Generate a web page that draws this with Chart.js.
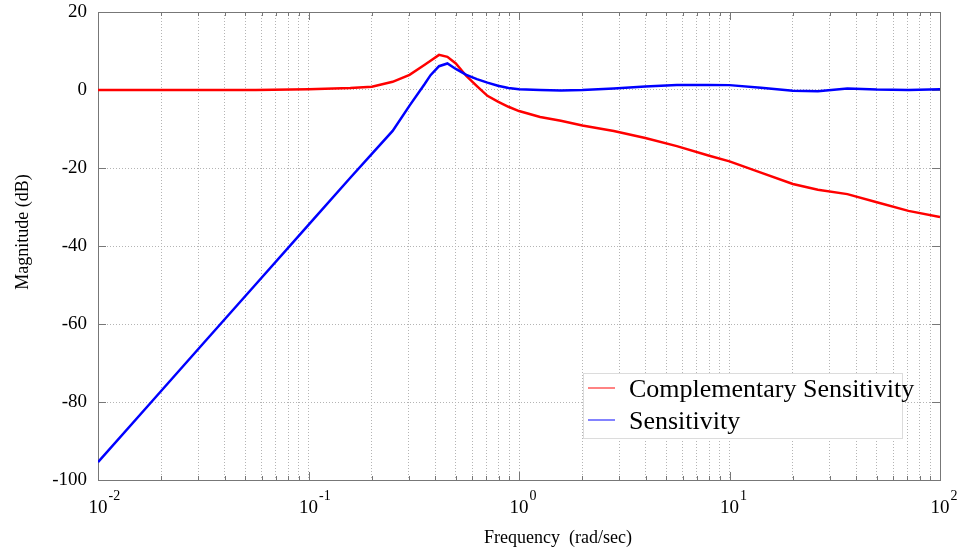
<!DOCTYPE html>
<html>
<head>
<meta charset="utf-8">
<script src="https://cdn.jsdelivr.net/npm/chart.js@4/dist/chart.umd.min.js"></script>
<style>
  html, body { margin: 0; padding: 0; background: #fff; }
  #wrap { width: 965px; height: 552px; }
</style>
</head>
<body>
<div id="wrap"><canvas id="bode"></canvas></div>
<script>
// frequency points (rad/sec)
const freq = [
  0.01, 0.0178, 0.0316, 0.0562, 0.1, 0.158, 0.2, 0.251, 0.302, 0.355,
  0.38, 0.417, 0.457, 0.501, 0.562, 0.631, 0.708, 0.794, 0.891, 1.0,
  1.26, 1.58, 2.0, 2.82, 3.98, 5.62, 7.94, 10.0, 14.1, 20.0,
  26.3, 36.3, 50.1, 70.8, 100
];

// magnitude in dB
const complementary = [
  0, 0, 0, 0, 0.2, 0.5, 0.85, 2.1, 3.9, 6.4,
  7.5, 9.0, 8.5, 6.8, 3.6, 1.0, -1.5, -3.0, -4.3, -5.4,
  -6.9, -7.9, -9.1, -10.5, -12.3, -14.4, -16.8, -18.3, -21.2, -24.1,
  -25.6, -26.7, -28.8, -31.0, -32.6
];
const sensitivity = [
  -95.4, -80.2, -65.0, -49.8, -34.6, -22.5, -16.4, -10.5, -4.0, 1.4,
  3.8, 6.1, 6.8, 5.4, 3.9, 2.8, 1.9, 1.1, 0.5, 0.2,
  0, -0.1, 0, 0.4, 0.9, 1.3, 1.3, 1.25, 0.6, -0.2,
  -0.35, 0.4, 0.1, 0, 0.2
];

const seriesNames = ['Complementary Sensitivity', 'Sensitivity'];
const decades = [-2, -1, 0, 1, 2];
const yTicks = [20, 0, -20, -40, -60, -80, -100];

const serif = 'Liberation Serif, Times New Roman, serif';

// grid positions on the log axis: 1..9 x 10^d
const xGridValues = [];
decades.forEach(d => {
  for (let k = 1; k <= 9; k++) {
    const v = k * Math.pow(10, d);
    if (v <= 100.0001) xGridValues.push(v);
  }
});

const toPoints = (ys) => ys.map((y, i) => ({ x: freq[i], y: y }));

// frame, inward tick marks, tick labels with exponents, titles, legend
const bodeDecor = {
  id: 'bodeDecor',
  beforeDatasetsDraw(chart) {
    const { ctx, chartArea: a, scales } = chart;
    const xs = scales.x, ys = scales.y;
    ctx.save();
    ctx.strokeStyle = '#777';
    ctx.lineWidth = 1;
    ctx.beginPath();
    xGridValues.forEach(v => {
      const px = Math.round(xs.getPixelForValue(v)) + 0.5;
      const major = Math.abs(Math.log10(v) - Math.round(Math.log10(v))) < 1e-6;
      const len = major ? 8 : 4;
      ctx.moveTo(px, a.bottom); ctx.lineTo(px, a.bottom - len);
      ctx.moveTo(px, a.top); ctx.lineTo(px, a.top + len);
    });
    yTicks.forEach(v => {
      const py = Math.round(ys.getPixelForValue(v)) + 0.5;
      ctx.moveTo(a.left, py); ctx.lineTo(a.left + 8, py);
      ctx.moveTo(a.right, py); ctx.lineTo(a.right - 8, py);
    });
    ctx.stroke();
    ctx.strokeRect(Math.round(a.left) + 0.5, Math.round(a.top) + 0.5,
                   Math.round(a.right - a.left), Math.round(a.bottom - a.top));
    ctx.restore();
  },
  afterDraw(chart) {
    const { ctx, chartArea: a, scales } = chart;
    const xs = scales.x;
    ctx.save();
    ctx.fillStyle = '#000';

    // x tick labels: 10 with superscript exponent
    decades.forEach(d => {
      const px = xs.getPixelForValue(Math.pow(10, d));
      ctx.font = '19px ' + serif;
      ctx.textAlign = 'center';
      ctx.textBaseline = 'alphabetic';
      const w = ctx.measureText('10').width;
      ctx.fillText('10', px, a.bottom + 33);
      ctx.font = '14px ' + serif;
      ctx.textAlign = 'left';
      ctx.fillText(String(d), px + w / 2 + 1, a.bottom + 20);
    });

    // axis titles
    ctx.font = '18px ' + serif;
    ctx.textAlign = 'center';
    ctx.fillText('Frequency  (rad/sec)', 558, 543);
    ctx.save();
    ctx.translate(28, 232);
    ctx.rotate(-Math.PI / 2);
    ctx.fillText('Magnitude (dB)', 0, 0);
    ctx.restore();

    // legend inside the plot
    const bx = 583, by = 373, bw = 319, bh = 65;
    ctx.fillStyle = '#fff';
    ctx.fillRect(bx, by, bw, bh);
    ctx.strokeStyle = '#dcdcdc';
    ctx.lineWidth = 1;
    ctx.strokeRect(bx + 0.5, by + 0.5, bw, bh);
    chart.data.datasets.forEach((ds, i) => {
      const ly = by + 15 + i * 32;
      ctx.strokeStyle = ds.borderColor;
      ctx.globalAlpha = 0.65;
      ctx.lineWidth = 1.5;
      ctx.beginPath();
      ctx.moveTo(bx + 5, ly); ctx.lineTo(bx + 32, ly);
      ctx.stroke();
      ctx.globalAlpha = 1;
      ctx.fillStyle = '#000';
      ctx.font = '26px ' + serif;
      ctx.textAlign = 'left';
      ctx.fillText(ds.label, bx + 46, ly + 9);
    });
    ctx.restore();
  }
};

const ctxBode = document.getElementById('bode').getContext('2d');

new Chart(ctxBode, {
  type: 'line',
  data: {
    datasets: [{
      label: seriesNames[0],
      data: toPoints(complementary),
      borderColor: '#ff0000',
      borderWidth: 2.5,
      pointRadius: 0,
      tension: 0,
      order: 1
    }, {
      label: seriesNames[1],
      data: toPoints(sensitivity),
      borderColor: '#0000ff',
      borderWidth: 2.5,
      pointRadius: 0,
      tension: 0,
      order: 0
    }]
  },
  options: {
    responsive: true,
    maintainAspectRatio: false,
    animation: false,
    layout: { padding: { top: 12, right: 25, bottom: 0, left: 0 } },
    plugins: {
      legend: { display: false },
      tooltip: { enabled: false }
    },
    scales: {
      x: {
        type: 'logarithmic',
        min: 0.01,
        max: 100,
        afterBuildTicks: (scale) => {
          scale.ticks = xGridValues.map(v => ({ value: v }));
        },
        afterFit: (scale) => {
          scale.height = 72;
          scale.paddingLeft = 0;
          scale.paddingRight = 0;
        },
        ticks: { display: false, autoSkip: false },
        grid: { color: '#b4b4b4', lineWidth: 1, drawTicks: false },
        border: { display: false, dash: [1, 2] }
      },
      y: {
        min: -100,
        max: 20,
        afterBuildTicks: (scale) => {
          scale.ticks = yTicks.map(v => ({ value: v }));
        },
        afterFit: (scale) => {
          scale.width = 98;
          scale.paddingTop = 0;
          scale.paddingBottom = 0;
        },
        ticks: {
          color: '#000',
          padding: 11,
          font: { family: serif, size: 19 }
        },
        grid: { color: '#b4b4b4', lineWidth: 1, drawTicks: false },
        border: { display: false, dash: [1, 2] }
      }
    }
  },
  plugins: [bodeDecor]
});
</script>
</body>
</html>
